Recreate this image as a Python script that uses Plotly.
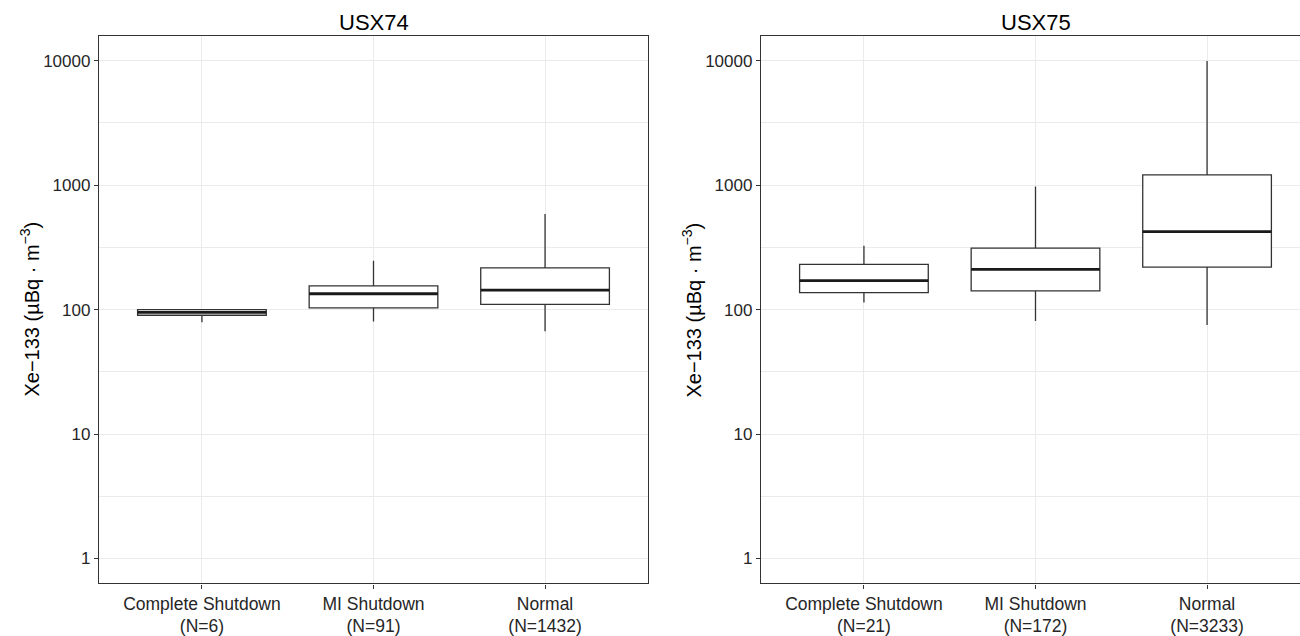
import plotly.graph_objects as go

# ---- data ----
categories = ["Complete Shutdown", "MI Shutdown", "Normal"]
n_usx74 = [6, 91, 1432]
n_usx75 = [21, 172, 3233]

usx74_lower = [79, 80, 67]
usx74_q1 = [90, 103, 110]
usx74_median = [95, 134, 143]
usx74_q3 = [100, 155, 216]
usx74_upper = [100, 247, 585]

usx75_lower = [114, 81, 75]
usx75_q1 = [137, 141, 219]
usx75_median = [171, 210, 422]
usx75_q3 = [231, 311, 1206]
usx75_upper = [325, 975, 9900]

panel_titles = ["USX74", "USX75"]
y_ticks = [1, 10, 100, 1000, 10000]
y_minor = [10 ** (k + 0.5) for k in range(-1, 5)]

W, H = 1300, 636
FONT = "Liberation Sans, Arial, sans-serif"
BOX_W = 0.75

fig = go.Figure()

panels = [
    (n_usx74, usx74_lower, usx74_q1, usx74_median, usx74_q3, usx74_upper),
    (n_usx75, usx75_lower, usx75_q1, usx75_median, usx75_q3, usx75_upper),
]

pos = list(range(len(categories)))
for i, (ns, lo, q1, md, q3, up) in enumerate(panels):
    xa = "x" if i == 0 else "x2"
    ya = "y" if i == 0 else "y2"
    fig.add_trace(go.Box(
        x=pos, q1=q1, median=md, q3=q3, lowerfence=lo, upperfence=up,
        width=BOX_W, whiskerwidth=0, fillcolor="white",
        line=dict(color="#333333", width=1.3),
        boxpoints=False, showlegend=False, xaxis=xa, yaxis=ya,
    ))
    mx, my = [], []
    for p, m in zip(pos, md):
        mx += [p - BOX_W / 2, p + BOX_W / 2, None]
        my += [m, m, None]
    fig.add_trace(go.Scatter(
        x=mx, y=my, mode="lines", line=dict(color="#1a1a1a", width=2.8),
        showlegend=False, hoverinfo="skip", xaxis=xa, yaxis=ya,
    ))

top_px, bot_px = 36, 589
ydom = [1 - bot_px / H, 1 - top_px / H]
left_dom = [99 / W, 648 / W]
right_dom = [761 / W, 1.0]
unit = (648 - 99) / 3.2
right_max = -0.6 + (W - 761) / unit

def ticklabels(ns):
    return [f"{c}<br>(N={n})" for c, n in zip(categories, ns)]

common_x = dict(
    tickmode="array", tickvals=pos,
    showgrid=True, gridcolor="#EBEBEB", gridwidth=1,
    ticks="outside", ticklen=4, tickcolor="#333333",
    tickfont=dict(family=FONT, size=17.5, color="#262626"),
    showline=True, linecolor="#333333", linewidth=1.3,
    zeroline=False,
)
common_y = dict(
    type="log", range=[-0.2, 4.2], domain=ydom,
    tickmode="array", tickvals=y_ticks, ticktext=[str(v) for v in y_ticks],
    showgrid=True, gridcolor="#EBEBEB", gridwidth=1,
    minor=dict(tickvals=y_minor, showgrid=True, gridcolor="#EBEBEB", gridwidth=1, ticklen=0),
    ticks="outside", ticklen=4, tickcolor="#333333",
    tickfont=dict(family=FONT, size=17, color="#262626"),
    showline=True, linecolor="#333333", linewidth=1.3,
    zeroline=False,
)

fig.update_layout(
    width=W, height=H,
    margin=dict(l=0, r=0, t=0, b=0),
    paper_bgcolor="white", plot_bgcolor="white",
    font=dict(family=FONT),
    xaxis=dict(domain=left_dom, range=[-0.6, 2.6], ticktext=ticklabels(n_usx74),
               mirror=True, anchor="y", **common_x),
    yaxis=dict(anchor="x", mirror=True, **common_y),
    xaxis2=dict(domain=right_dom, range=[-0.6, right_max], ticktext=ticklabels(n_usx75),
                mirror=True, anchor="y2", **common_x),
    yaxis2=dict(anchor="x2", mirror=False, **common_y),
)

ytitle = "Xe\u2212133 (\u00b5Bq \u00b7 m<sup>\u22123</sup>)"
centers = [(99 + 648) / 2 / W, (761 + 1310) / 2 / W]
for i, t in enumerate(panel_titles):
    fig.add_annotation(text=t, x=centers[i], y=1 - 23 / H, xref="paper", yref="paper",
                       xanchor="center", yanchor="middle",
                       showarrow=False, font=dict(family=FONT, size=22, color="black"))
for xpx in [30, 692]:
    fig.add_annotation(text=ytitle, x=xpx / W, y=(ydom[0] + ydom[1]) / 2,
                       xref="paper", yref="paper", textangle=-90, showarrow=False,
                       xanchor="center", yanchor="middle",
                       font=dict(family=FONT, size=20, color="black"))

fig.write_html("out.html", config={"displayModeBar": False},
               post_script="document.body.style.margin='0px';")
